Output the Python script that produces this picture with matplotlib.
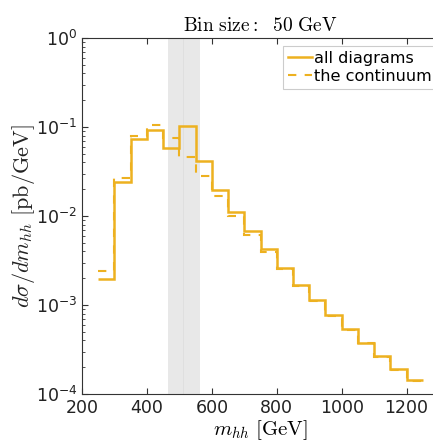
import numpy as np
import matplotlib
matplotlib.use("Agg")
import matplotlib.pyplot as plt
from matplotlib.ticker import FixedLocator, LogLocator, NullFormatter

bin_edges = [250, 300, 350, 400, 450, 500, 550, 600, 650, 700, 750, 800, 850,
             900, 950, 1000, 1050, 1100, 1150, 1200, 1250]
all_diagrams = [1.96e-3, 0.0241, 0.0728, 0.0925, 0.0586, 0.1035, 0.0418, 0.0196,
                0.01117, 0.00678, 0.00422, 0.00263, 0.00168, 0.00114, 7.8e-4,
                5.33e-4, 3.77e-4, 2.67e-4, 1.89e-4, 1.44e-4]
continuum = [2.4e-3, 0.0269, 0.080, 0.105, 0.0746, 0.046, 0.0279, 0.0168,
             0.0101, 0.00612, 0.00394, 0.00252, 0.00163, 0.00111, 7.6e-4,
             5.2e-4, 3.7e-4, 2.62e-4, 1.86e-4, 1.41e-4]
bands = [(466, 514), (512, 564)]
xticks = [200, 400, 600, 800, 1000, 1200]

color = "#EDB120"
fig = plt.figure(figsize=(4.33, 4.45), dpi=100)
ax = fig.add_axes([82/433, 51/445, (439-82)/433, (394-38)/445])

for a, b in bands:
    ax.axvspan(a, b, color="#d9d9d9", alpha=0.6, lw=0, zorder=0)

ax.stairs(all_diagrams, bin_edges, color=color, lw=1.8, label="all diagrams",
          baseline=None, zorder=3)
ax.stairs(continuum, bin_edges, color=color, lw=1.5, ls=(0, (4, 4)),
          label="the continuum", baseline=None, zorder=2)

ax.set_yscale("log")
ax.set_xlim(200, 1300)
ax.set_ylim(1e-4, 1)
ax.xaxis.set_major_locator(FixedLocator(xticks))
ax.yaxis.set_major_locator(LogLocator(base=10, numticks=10))
ax.yaxis.set_minor_locator(LogLocator(base=10, subs=np.arange(2, 10), numticks=10))
ax.yaxis.set_minor_formatter(NullFormatter())
ax.tick_params(which="both", direction="in", top=True, right=True, labelsize=12.5,
               color="#333333", labelcolor="#222222")
ax.tick_params(which="major", length=4)
ax.tick_params(which="minor", length=2)
for s in ax.spines.values():
    s.set_color("#333333")

ax.set_xlabel(r"$m_{hh}\ [\mathrm{GeV}]$", fontsize=15, math_fontfamily="cm", labelpad=1)
ax.set_ylabel(r"$d\sigma/dm_{hh}\ [\mathrm{pb/GeV}]$", fontsize=16, math_fontfamily="cm",
              labelpad=-1, color="#222222")
ax.set_title(r"$\mathrm{Bin\ size{:}\ \ 50\ GeV}$", fontsize=14, math_fontfamily="cm", pad=5)

leg = ax.legend(loc="upper left", bbox_to_anchor=(0.563, 0.978), fontsize=11.6,
                handlelength=1.5, handletextpad=0.15, borderpad=0.3, labelspacing=0.2,
                borderaxespad=0, fancybox=False, edgecolor="#cccccc", framealpha=1)
leg.get_frame().set_linewidth(0.8)

fig.savefig("out.png", dpi=100)
